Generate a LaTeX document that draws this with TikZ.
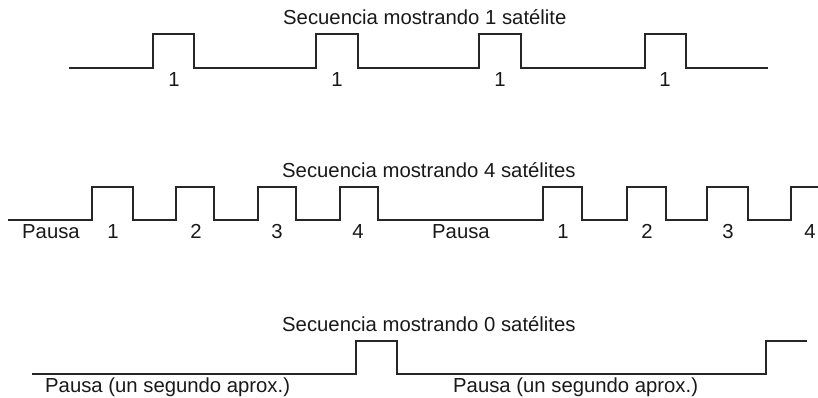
\documentclass[tikz,border=0pt]{standalone}
\usepackage{fontspec}
\setmainfont{Liberation Sans}
\begin{document}
\begin{tikzpicture}[x=1pt,y=-1pt,
  wave/.style={draw=black!85, line width=1.6pt, line join=miter},
  lbl/.style={inner sep=0pt, anchor=base, text=black!90, font=\fontsize{20.3}{24}\selectfont},
  lblw/.style={lbl, anchor=base west}]
\useasboundingbox (0,0) rectangle (818,398);
% Row 1
\node[lblw] (t1) at (283,25) {Secuencia mostrando 1 satélite};
\draw[wave] (69,68) -- (153,68) -- (153,34) -- (194,34) -- (194,68)
  -- (316,68) -- (316,34) -- (358,34) -- (358,68)
  -- (479,68) -- (479,34) -- (521,34) -- (521,68)
  -- (645,68) -- (645,34) -- (686,34) -- (686,68) -- (768,68);
\node[lbl] (a1) at (174,87) {1};
\node[lbl] (a2) at (337,87) {1};
\node[lbl] (a3) at (500,87) {1};
\node[lbl] (a4) at (665,87) {1};
% Row 2
\node[lblw] (t2) at (282,177) {Secuencia mostrando 4 satélites};
\draw[wave] (8,220) -- (92,220) -- (92,187) -- (133,187) -- (133,220)
  -- (176,220) -- (176,187) -- (214,187) -- (214,220)
  -- (258,220) -- (258,187) -- (296,187) -- (296,220)
  -- (340,220) -- (340,187) -- (378,187) -- (378,220)
  -- (543,220) -- (543,187) -- (582,187) -- (582,220)
  -- (627,220) -- (627,187) -- (666,187) -- (666,220)
  -- (707,220) -- (707,187) -- (748,187) -- (748,220)
  -- (791,220) -- (791,187) -- (818,187);
\node[lblw] (p1) at (22,238) {Pausa};
\node[lbl] (b1) at (113,238) {1};
\node[lbl] (b2) at (196,238) {2};
\node[lbl] (b3) at (277,238) {3};
\node[lbl] (b4) at (358,238) {4};
\node[lblw] (p2) at (432,238) {Pausa};
\node[lbl] (c1) at (563,238) {1};
\node[lbl] (c2) at (647,238) {2};
\node[lbl] (c3) at (728,238) {3};
\node[lbl] (c4) at (810,238) {4};
% Row 3
\node[lblw] (t3) at (282,331) {Secuencia mostrando 0 satélites};
\draw[wave] (32,374) -- (356,374) -- (356,341) -- (397,341) -- (397,374)
  -- (766,374) -- (766,341) -- (807,341);
\node[lblw] (q1) at (45,392) {Pausa (un segundo aprox.)};
\node[lblw] (q2) at (453,392) {Pausa (un segundo aprox.)};
\end{tikzpicture}
\end{document}
